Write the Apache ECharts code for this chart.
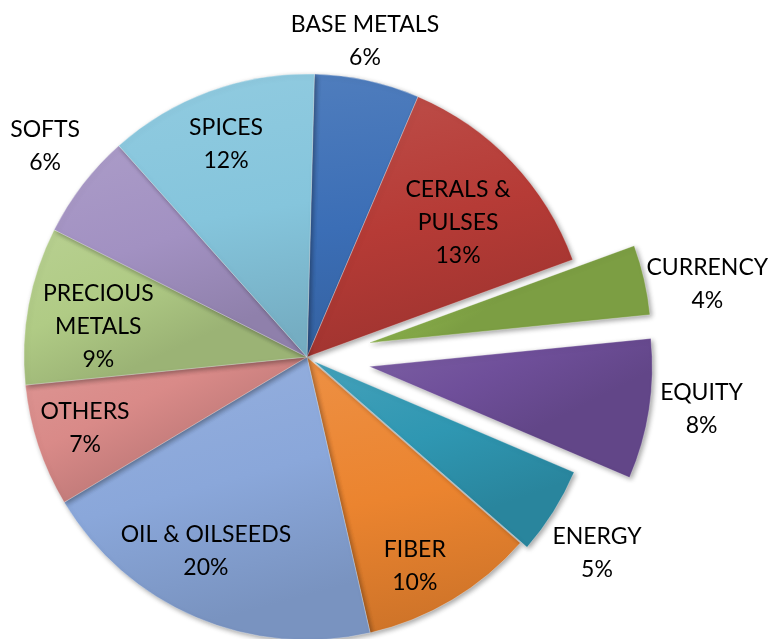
<!DOCTYPE html>
<html>
<head>
<meta charset="utf-8">
<script src="https://cdn.jsdelivr.net/npm/echarts@6/dist/echarts.min.js"></script>
<style>
  html, body { margin: 0; padding: 0; background: #ffffff; }
  #chart { width: 768px; height: 639px; }
</style>
</head>
<body>
<div id="chart"></div>
<script>
// Commodity segments and their shares (percent)
const categories = ['BASE METALS', 'CERALS &\nPULSES', 'CURRENCY', 'EQUITY', 'ENERGY', 'FIBER',
                    'OIL & OILSEEDS', 'OTHERS', 'PRECIOUS\nMETALS', 'SOFTS', 'SPICES'];
const shares = [6, 13, 4, 8, 5, 10, 20, 7, 9, 6, 12];

// Slice colours
const colors = ['#3b6eb6', '#b63b36', '#8db34c', '#6f4f9a', '#2f97b2', '#eb842f',
                '#8aa7da', '#d98a88', '#b0cb85', '#a291c2', '#85c5dc'];

// Layout
const CX = 307, CY = 357, R = 283, START = 88.5;
const explode = { 2: 63, 3: 63, 4: 8 };                 // pulled-out slices and their offset
// label distance from the slice's own centre, and a small clockwise turn (degrees)
const labelRadius = [321, 202, 344, 335, 342, 235, 219, 233, 211, 336, 228];
const labelTurn   = [-1.9, 1.9, 3.0, -1.4, 2.0, 3.6, 4.4, 0.6, -2.1, 1.3, -0.7];
const FONT = { fontFamily: 'Lato, "Open Sans", sans-serif', fontSize: 23, lineHeight: 33, color: '#000000' };

const total = shares.reduce((a, b) => a + b, 0);

// angle of a slice's middle, clockwise from 12 o'clock, in radians
function midAngle(i) {
  let before = 0;
  for (let k = 0; k < i; k++) before += shares[k];
  const deg = (90 - START) + (before + shares[i] / 2) / total * 360;
  return deg * Math.PI / 180;
}
function centerFor(i) {
  const off = explode[i] || 0;
  const a = midAngle(i);
  return [CX + off * Math.sin(a), CY - off * Math.cos(a)];
}

function shade(hex, amt) {
  const n = parseInt(hex.slice(1), 16);
  const r = n >> 16, g = (n >> 8) & 255, b = n & 255;
  const f = v => Math.round(amt >= 0 ? v + (255 - v) * amt : v * (1 + amt));
  return 'rgb(' + f(r) + ',' + f(g) + ',' + f(b) + ')';
}

const hidden = { color: 'rgba(0,0,0,0)', borderWidth: 0, shadowBlur: 0, shadowColor: 'rgba(0,0,0,0)' };

function sliceStyle(i) {
  const c = colors[i];
  return {
    color: {
      type: 'linear', x: 0, y: 0, x2: 0.25, y2: 1,
      colorStops: [
        { offset: 0, color: shade(c, 0.1) },
        { offset: 0.55, color: c },
        { offset: 1, color: shade(c, -0.12) }
      ]
    },
    borderColor: 'rgba(255,255,255,0.3)',
    borderWidth: 1,
    shadowColor: 'rgba(0,0,0,0.35)',
    shadowBlur: 5,
    shadowOffsetX: 2,
    shadowOffsetY: 2
  };
}

const base = {
  type: 'pie', clockwise: true, silent: true, animation: false,
  avoidLabelOverlap: false, emphasis: { disabled: true }, labelLine: { show: false }
};

// slice layers: the whole pie plus one layer per pulled-out slice
const series = [];
const mainVisible = categories.map((_, i) => i).filter(i => !(i in explode));
const layers = [{ visible: mainVisible, center: [CX, CY] }]
  .concat(Object.keys(explode).map(k => ({ visible: [+k], center: centerFor(+k) })));

layers.forEach(layer => {
  series.push(Object.assign({}, base, {
    center: layer.center,
    startAngle: START,
    radius: [0, R],
    label: { show: false },
    data: categories.map((name, i) => ({
      name, value: shares[i],
      itemStyle: layer.visible.includes(i) ? sliceStyle(i) : hidden
    }))
  }));
});

// one transparent ring per label, placing the text along the slice's middle
categories.forEach((name, j) => {
  const rr = labelRadius[j];
  series.push(Object.assign({}, base, {
    center: centerFor(j),
    startAngle: START - labelTurn[j],
    radius: [rr - 4, rr - 2],
    z: 5,
    data: categories.map((n, i) => ({
      name: n, value: shares[i],
      itemStyle: hidden,
      label: { show: i === j }
    })),
    label: Object.assign({
      position: 'inside',
      formatter: p => p.name + '\n' + p.value + '%'
    }, FONT)
  }));
});

const chart = echarts.init(document.getElementById('chart'), null, { renderer: 'canvas' });
chart.setOption({ backgroundColor: '#ffffff', series });
</script>
</body>
</html>
